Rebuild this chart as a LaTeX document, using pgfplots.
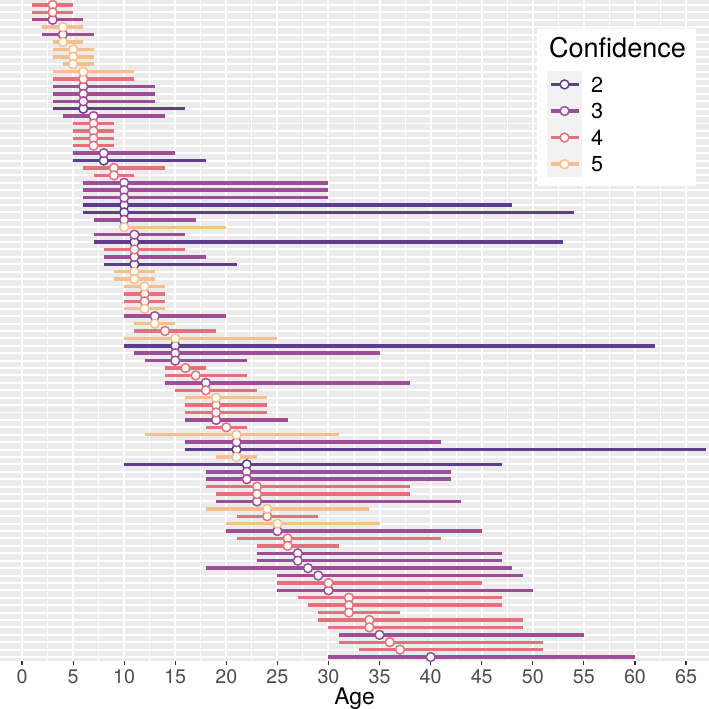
\documentclass[border=0pt]{standalone}
\usepackage{fontspec}
\setmainfont{TeX Gyre Heros}
\usepackage{pgfplots}
\usepackage{pgfplotstable}
\pgfplotsset{compat=1.18}

\definecolor{panelbg}{HTML}{EBEBEB}
\definecolor{keybg}{HTML}{F2F2F2}
\definecolor{ctwo}{HTML}{5E3C8E}
\definecolor{cthree}{HTML}{9F4D97}
\definecolor{cfour}{HTML}{E4727C}
\definecolor{cfive}{HTML}{F7BF8E}
\definecolor{ticktext}{HTML}{4D4D4D}
\definecolor{tickline}{HTML}{333333}

% one row per estimate: row position, lower bound, point estimate, upper bound
\pgfplotstableread{
y lo x hi
15 3 6 16
22 5 8 18
28 6 10 48
29 6 10 54
33 7 11 53
36 8 11 21
47 10 15 62
61 16 21 67
63 10 22 47
}\confTwo

\pgfplotstableread{
y lo x hi
3 1 3 6
5 2 4 7
12 3 6 13
13 3 6 13
14 3 6 13
16 4 7 14
21 5 8 15
25 6 10 30
26 6 10 30
27 6 10 30
30 7 10 17
32 7 11 16
35 8 11 18
43 10 13 20
48 11 15 35
49 12 15 22
52 14 18 38
57 16 19 26
60 16 21 41
64 18 22 42
65 18 22 42
68 19 23 43
72 20 25 45
75 23 27 47
76 23 27 47
77 18 28 48
78 25 29 49
80 25 30 50
86 31 35 55
89 30 40 60
}\confThree

\pgfplotstableread{
y lo x hi
1 1 3 5
2 1 3 5
11 3 6 11
17 5 7 9
18 5 7 9
19 5 7 9
20 5 7 9
23 6 9 14
24 7 9 11
34 8 11 16
40 10 12 14
41 10 12 14
45 11 14 19
50 14 16 18
51 14 17 22
53 15 18 23
55 16 19 24
56 16 19 24
58 18 20 22
66 18 23 38
67 19 23 38
70 21 24 29
73 21 26 41
74 23 26 31
79 25 30 45
81 27 32 47
82 28 32 47
83 29 32 37
84 29 34 49
85 30 34 49
87 31 36 51
88 33 37 51
}\confFour

\pgfplotstableread{
y lo x hi
4 2 4 6
6 3 4 6
7 3 5 7
8 3 5 7
9 4 5 7
10 3 6 11
31 10 10 20
37 9 11 13
38 9 11 13
39 10 12 14
42 10 12 14
44 11 13 15
46 10 15 25
54 16 19 24
59 12 21 31
62 19 21 23
69 18 24 34
71 20 25 35
}\confFive

\pgfplotsset{
  % horizontal interval: invisible anchor marks, the bar itself is the error bar
  range/.style={forget plot, only marks, mark=*, mark size=0.1pt,
    mark options={draw=none, fill=none},
    error bars/.cd, x dir=both, x explicit, error mark=none,
    error bar style={line width=1.4pt, draw=#1, solid}},
  % point estimate: open circle in the level colour
  est/.style={only marks, mark=*, color=#1, mark size=1.8pt,
    mark options={draw=#1, fill=white, line width=0.6pt},
    legend image code/.code={
      \fill[keybg] (0pt,-5.2pt) rectangle (13.8pt,5.2pt);
      \draw[#1, line width=1.4pt] (1.2pt,0pt) -- (12.6pt,0pt);
      \draw[#1, fill=white, line width=0.6pt] (6.9pt,0pt) circle (1.8pt);
    }},
}

\begin{document}
\begin{tikzpicture}
\useasboundingbox (0,-19.3pt) rectangle (288pt,268.7pt);
\begin{axis}[
  scale only axis,
  width=288pt, height=268.5pt,
  xmin=-2.154, xmax=67.25,
  ymin=0.4, ymax=89.6,
  y dir=reverse,
  axis background/.style={fill=panelbg},
  axis line style={draw=none},
  xtick={0,5,...,65},
  minor xtick={-2.5,2.5,...,67.5},
  ytick={1,...,89},
  yticklabels={},
  ytick style={draw=none},
  xtick pos=bottom,
  tick align=outside,
  major tick length=1.6pt,
  minor tick length=0pt,
  xtick style={tickline, line width=0.45pt},
  xmajorgrids, ymajorgrids, xminorgrids,
  major grid style={white, line width=0.8pt},
  minor grid style={white, line width=0.4pt},
  /pgf/number format/assume math mode=true,
  xticklabel style={font=\fontsize{8}{9.5}\selectfont, text=ticktext, inner sep=0pt, yshift=-1.5pt},
  xlabel={Age},
  x label style={at={(axis description cs:0.5,0)}, anchor=center, yshift=-15pt,
    inner sep=0pt, font=\fontsize{9.3}{11}\selectfont},
  legend cell align=left,
  legend style={at={(axis description cs:0.757,0.958)}, anchor=north west,
    fill=white, draw=none, inner xsep=4pt, inner ysep=3.4pt,
    row sep=0pt, column sep=3.7pt, nodes={inner sep=0pt, text depth=},
    font=\fontsize{8.8}{10}\selectfont},
]
\addlegendimage{empty legend}
\addlegendentry{\hspace*{-17.1pt}\rule[-5.6pt]{0pt}{5.6pt}\fontsize{11}{13}\selectfont Confidence}

\addplot[range=ctwo] table[x=x, y=y, x error plus expr=\thisrow{hi}-\thisrow{x}, x error minus expr=\thisrow{x}-\thisrow{lo}] {\confTwo};
\addplot[range=cthree] table[x=x, y=y, x error plus expr=\thisrow{hi}-\thisrow{x}, x error minus expr=\thisrow{x}-\thisrow{lo}] {\confThree};
\addplot[range=cfour] table[x=x, y=y, x error plus expr=\thisrow{hi}-\thisrow{x}, x error minus expr=\thisrow{x}-\thisrow{lo}] {\confFour};
\addplot[range=cfive] table[x=x, y=y, x error plus expr=\thisrow{hi}-\thisrow{x}, x error minus expr=\thisrow{x}-\thisrow{lo}] {\confFive};

\addplot[est=ctwo] table[x=x, y=y] {\confTwo};
\addlegendentry{2}
\addplot[est=cthree] table[x=x, y=y] {\confThree};
\addlegendentry{3}
\addplot[est=cfour] table[x=x, y=y] {\confFour};
\addlegendentry{4}
\addplot[est=cfive] table[x=x, y=y] {\confFive};
\addlegendentry{5}
\end{axis}
\end{tikzpicture}
\end{document}
